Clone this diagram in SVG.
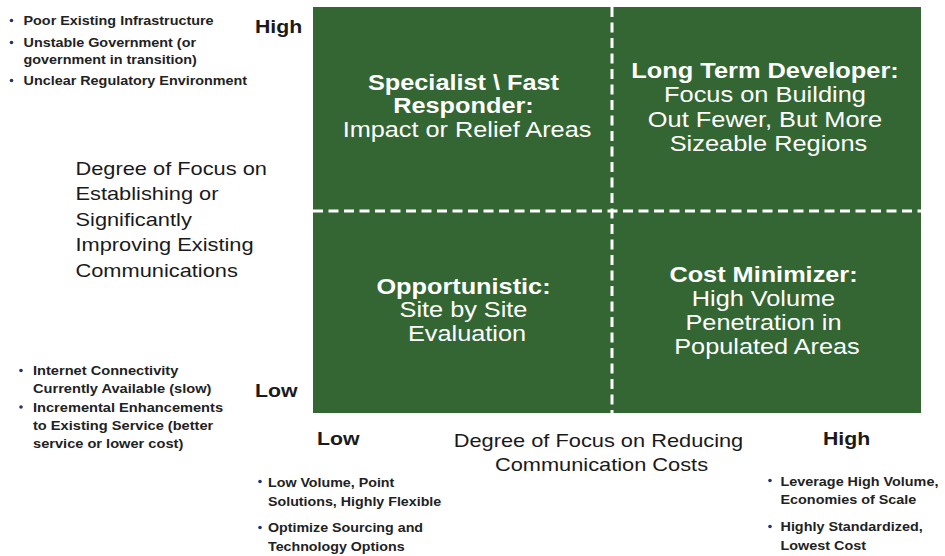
<svg xmlns="http://www.w3.org/2000/svg" width="945" height="556" viewBox="0 0 945 556">
  <style>
    .quad { fill: #336633; }
    .divider { stroke: #ffffff; stroke-width: 3; stroke-dasharray: 10 5.5; fill: none; }
    .qt { font-family: "Liberation Sans", Arial, sans-serif; font-size: 22px; fill: #ffffff; text-anchor: middle; }
    .qt .b { font-weight: bold; }
    .axis { font-family: "Liberation Sans", Arial, sans-serif; font-size: 18.8px; fill: #1a1a1a; }
    .tick { font-family: "Liberation Sans", Arial, sans-serif; font-size: 18.5px; font-weight: bold; fill: #1a1a1a; }
    .note { font-family: "Liberation Sans", Arial, sans-serif; font-size: 12.5px; font-weight: bold; fill: #222222; }
    .dot { fill: #26326e; }
  </style>

  <!-- Matrix background -->
  <g id="matrix">
    <rect class="quad" x="313" y="7" width="608" height="406"/>
  </g>

  <!-- Quadrant dividers -->
  <g id="connectors">
    <line class="divider" x1="612" y1="7" x2="612" y2="413"/>
    <line class="divider" x1="313" y1="211" x2="921" y2="211"/>
  </g>

  <!-- Quadrant labels -->
  <g id="specialist">
    <text class="qt" transform="translate(467 90) scale(1.15 1)">
      <tspan class="b" x="0" y="0">Specialist \ Fast</tspan>
      <tspan class="b" x="0" y="23.5">Responder:</tspan>
      <tspan x="0" y="47.5">Impact or Relief Areas</tspan>
    </text>
  </g>

  <g id="long-term-developer">
    <text class="qt" transform="translate(768.5 78) scale(1.155 1)">
      <tspan class="b" x="0" y="0">Long Term Developer:</tspan>
      <tspan x="0" y="24.5">Focus on Building</tspan>
      <tspan x="0" y="49">Out Fewer, But More</tspan>
      <tspan x="0" y="73.5">Sizeable Regions</tspan>
    </text>
  </g>

  <g id="opportunistic">
    <text class="qt" transform="translate(467 294) scale(1.15 1)">
      <tspan class="b" x="0" y="0">Opportunistic:</tspan>
      <tspan x="0" y="23.5">Site by Site</tspan>
      <tspan x="0" y="47">Evaluation</tspan>
    </text>
  </g>

  <g id="cost-minimizer">
    <text class="qt" transform="translate(767 282) scale(1.15 1)">
      <tspan class="b" x="0" y="0">Cost Minimizer:</tspan>
      <tspan x="0" y="24">High Volume</tspan>
      <tspan x="0" y="48">Penetration in</tspan>
      <tspan x="0" y="72">Populated Areas</tspan>
    </text>
  </g>

  <!-- Vertical axis -->
  <g id="y-axis">
    <text class="axis" transform="translate(75.5 175) scale(1.16 1)">
      <tspan x="0" y="0">Degree of Focus on</tspan>
      <tspan x="0" y="25.5">Establishing or</tspan>
      <tspan x="0" y="51">Significantly</tspan>
      <tspan x="0" y="76.5">Improving Existing</tspan>
      <tspan x="0" y="102">Communications</tspan>
    </text>
    <text class="tick" transform="translate(255 33) scale(1.15 1)">High</text>
    <text class="tick" transform="translate(255 397) scale(1.15 1)">Low</text>
  </g>

  <!-- Horizontal axis -->
  <g id="x-axis">
    <text class="axis" text-anchor="middle" transform="translate(601.5 446.5) scale(1.16 1)">
      <tspan x="0" y="0">Degree of Focus on Reducing</tspan>
      <tspan x="0" y="25">Communication Costs</tspan>
    </text>
    <text class="tick" transform="translate(317 445) scale(1.15 1)">Low</text>
    <text class="tick" transform="translate(823 445) scale(1.15 1)">High</text>
  </g>

  <!-- High-end notes, vertical axis -->
  <g id="notes-y-high">
    <circle class="dot" cx="11.5" cy="20.5" r="1.8"/>
    <circle class="dot" cx="11.5" cy="42.5" r="1.8"/>
    <circle class="dot" cx="11.5" cy="80.5" r="1.8"/>
    <text class="note" transform="translate(23.5 25) scale(1.15 1)">
      <tspan x="0" y="0">Poor Existing Infrastructure</tspan>
      <tspan x="0" y="22">Unstable Government (or</tspan>
      <tspan x="0" y="39.5">government in transition)</tspan>
      <tspan x="0" y="60">Unclear Regulatory Environment</tspan>
    </text>
  </g>

  <!-- Low-end notes, vertical axis -->
  <g id="notes-y-low">
    <circle class="dot" cx="21" cy="370.5" r="1.8"/>
    <circle class="dot" cx="21" cy="407" r="1.8"/>
    <text class="note" transform="translate(33 375) scale(1.17 1)">
      <tspan x="0" y="0">Internet Connectivity</tspan>
      <tspan x="0" y="18.3">Currently Available (slow)</tspan>
      <tspan x="0" y="36.6">Incremental Enhancements</tspan>
      <tspan x="0" y="54.9">to Existing Service (better</tspan>
      <tspan x="0" y="73.2">service or lower cost)</tspan>
    </text>
  </g>

  <!-- Low-end notes, horizontal axis -->
  <g id="notes-x-low">
    <circle class="dot" cx="260" cy="481.5" r="1.8"/>
    <circle class="dot" cx="260" cy="527.5" r="1.8"/>
    <text class="note" transform="translate(268 486.5) scale(1.14 1)">
      <tspan x="0" y="0">Low Volume, Point</tspan>
      <tspan x="0" y="19.5">Solutions, Highly Flexible</tspan>
      <tspan x="0" y="46">Optimize Sourcing and</tspan>
      <tspan x="0" y="65">Technology Options</tspan>
    </text>
  </g>

  <!-- High-end notes, horizontal axis -->
  <g id="notes-x-high">
    <circle class="dot" cx="770" cy="480.5" r="1.8"/>
    <circle class="dot" cx="770" cy="526.5" r="1.8"/>
    <text class="note" transform="translate(780.5 485.5) scale(1.15 1)">
      <tspan x="0" y="0">Leverage High Volume,</tspan>
      <tspan x="0" y="18.5">Economies of Scale</tspan>
      <tspan x="0" y="46">Highly Standardized,</tspan>
      <tspan x="0" y="64.5">Lowest Cost</tspan>
    </text>
  </g>
</svg>
